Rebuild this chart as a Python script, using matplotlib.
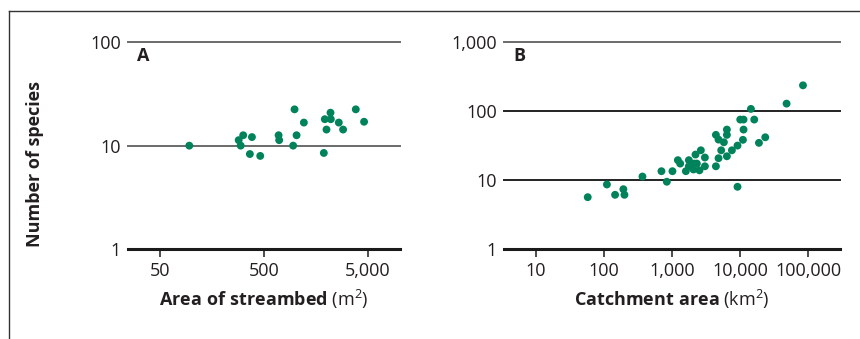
import matplotlib
matplotlib.use("Agg")
import matplotlib.pyplot as plt
from matplotlib.lines import Line2D
from matplotlib.ticker import FixedLocator, FixedFormatter, NullLocator

plt.rcParams['font.family'] = ['Open Sans', 'DejaVu Sans']
plt.rcParams['mathtext.fontset'] = 'custom'
plt.rcParams['mathtext.rm'] = 'Open Sans'
plt.rcParams['mathtext.bf'] = 'Open Sans:bold'
plt.rcParams['mathtext.it'] = 'Open Sans:italic'

# Panel A: area of streambed (m2) vs number of species
area_a = [95, 284, 314, 297, 381, 364, 458, 688, 697, 980, 1205, 1025, 950,
          1917, 2175, 2190, 1990, 2614, 2875, 1875, 3810, 4577]
species_a = [10, 11.3, 12.6, 10, 12.1, 8.3, 7.96, 12.6, 11.3, 22.4, 16.7, 12.6, 10,
             18.0, 20.8, 18.0, 14.3, 16.7, 14.3, 8.5, 22.4, 17.0]

# Panel B: catchment area (km2) vs number of species
area_b = [57.5, 110, 145, 192, 199, 366, 696, 835, 1010, 1213, 1312, 1590, 1760,
          1760, 2057, 2106, 2307, 2202, 2641, 2520, 3027, 3027, 4393, 4393, 4800,
          4800, 5255, 5754, 6370, 6370, 6370, 7550, 9120, 9120, 10960, 11190,
          10000, 11190, 14360, 16070, 18840, 23330, 47970, 83560]
species_b = [5.68, 8.67, 6.15, 7.41, 6.15, 11.3, 13.5, 9.5, 13.5, 19.5, 17.4, 13.5, 19.5,
             15.9, 14.3, 17.4, 17.4, 23.5, 27.1, 13.9, 21.3, 15.9, 15.9, 45.3, 38.7,
             20.8, 27.1, 35.4, 54.0, 45.3, 22.2, 27.1, 31.7, 8.03, 38.4, 54.0,
             75.4, 75.4, 107.6, 75.4, 34.7, 41.8, 128.3, 236]

xticks_a = [50, 500, 5000]
xticklabels_a = ["50", "500", "5,000"]
yticks_a = [1, 10, 100]
yticklabels_a = ["1", "10", "100"]

xticks_b = [10, 100, 1000, 10000, 100000]
xticklabels_b = ["10", "100", "1,000", "10,000", "100,000"]
yticks_b = [1, 10, 100, 1000]
yticklabels_b = ["1", "10", "100", "1,000"]

dot_color = '#00825a'
text_color = '#231f20'
fs = 13


def panel(ax, x, y, xlim, ylim, xticks, xlabels, yticks, ylabels, grid_colors, letter, xlabel):
    ax.set_xscale('log')
    ax.set_yscale('log')
    ax.set_xlim(xlim)
    ax.set_ylim(ylim)
    for s in ax.spines.values():
        s.set_visible(False)

    # horizontal reference lines (bottom one is the axis line)
    for yt, c in zip(yticks[1:], grid_colors):
        ax.axhline(yt, color=c, linewidth=1.4, zorder=1, clip_on=False)
    ax.axhline(yticks[0], color='#1a1a1a', linewidth=2.2, zorder=1, clip_on=False)

    ax.scatter(x, y, s=32, color=dot_color, edgecolors='none', zorder=3, clip_on=False)

    ax.xaxis.set_major_locator(FixedLocator(xticks))
    ax.xaxis.set_major_formatter(FixedFormatter(xlabels))
    ax.xaxis.set_minor_locator(NullLocator())
    ax.yaxis.set_major_locator(FixedLocator(yticks))
    ax.yaxis.set_major_formatter(FixedFormatter(ylabels))
    ax.yaxis.set_minor_locator(NullLocator())
    ax.tick_params(axis='x', direction='out', length=6, width=1.1, color='#1a1a1a',
                   labelsize=fs, labelcolor=text_color, pad=3)
    ax.tick_params(axis='y', length=0, labelsize=fs, labelcolor=text_color, pad=5)

    ax.set_xlabel(xlabel, fontsize=fs, color=text_color, labelpad=6)
    # panel letter, offset in pixels from the top-left corner
    ax.annotate(letter, xy=(0, 1), xycoords='axes fraction', xytext=(15.5 * 0.72, -14 * 0.72),
                textcoords='offset points', fontsize=fs, fontweight='bold',
                color=text_color, ha='center', va='center')


fig = plt.figure(figsize=(8.6, 3.39), dpi=100)

ax_a = fig.add_axes([0.1488, 0.2646, 0.3163, 0.6115])
panel(ax_a, area_a, species_a, (24.4, 10150), (1, 100), xticks_a, xticklabels_a,
      yticks_a, yticklabels_a, ['#6a6a6a', '#6a6a6a'], "A",
      r"$\mathbf{Area\ of\ streambed}$ (m$^2$)")
ax_a.set_ylabel("Number of species", fontsize=fs, fontweight='bold', color=text_color)
ax_a.yaxis.set_label_coords(-0.309, 0.41)

ax_b = fig.add_axes([0.586, 0.2646, 0.3907, 0.6115])
panel(ax_b, area_b, species_b, (3.38, 292000), (1, 1000), xticks_b, xticklabels_b,
      yticks_b, yticklabels_b, ['#222222', '#222222', '#6a6a6a'], "B",
      r"$\mathbf{Catchment\ area}$ (km$^2$)")

# frame lines at top and left of the figure
fig.add_artist(Line2D([8.5 / 860, 1], [1 - 10.5 / 339] * 2, color='#333333', linewidth=1.0))
fig.add_artist(Line2D([8.5 / 860] * 2, [0, 1 - 10.5 / 339], color='#333333', linewidth=1.0))

fig.savefig("out.png", dpi=100)
